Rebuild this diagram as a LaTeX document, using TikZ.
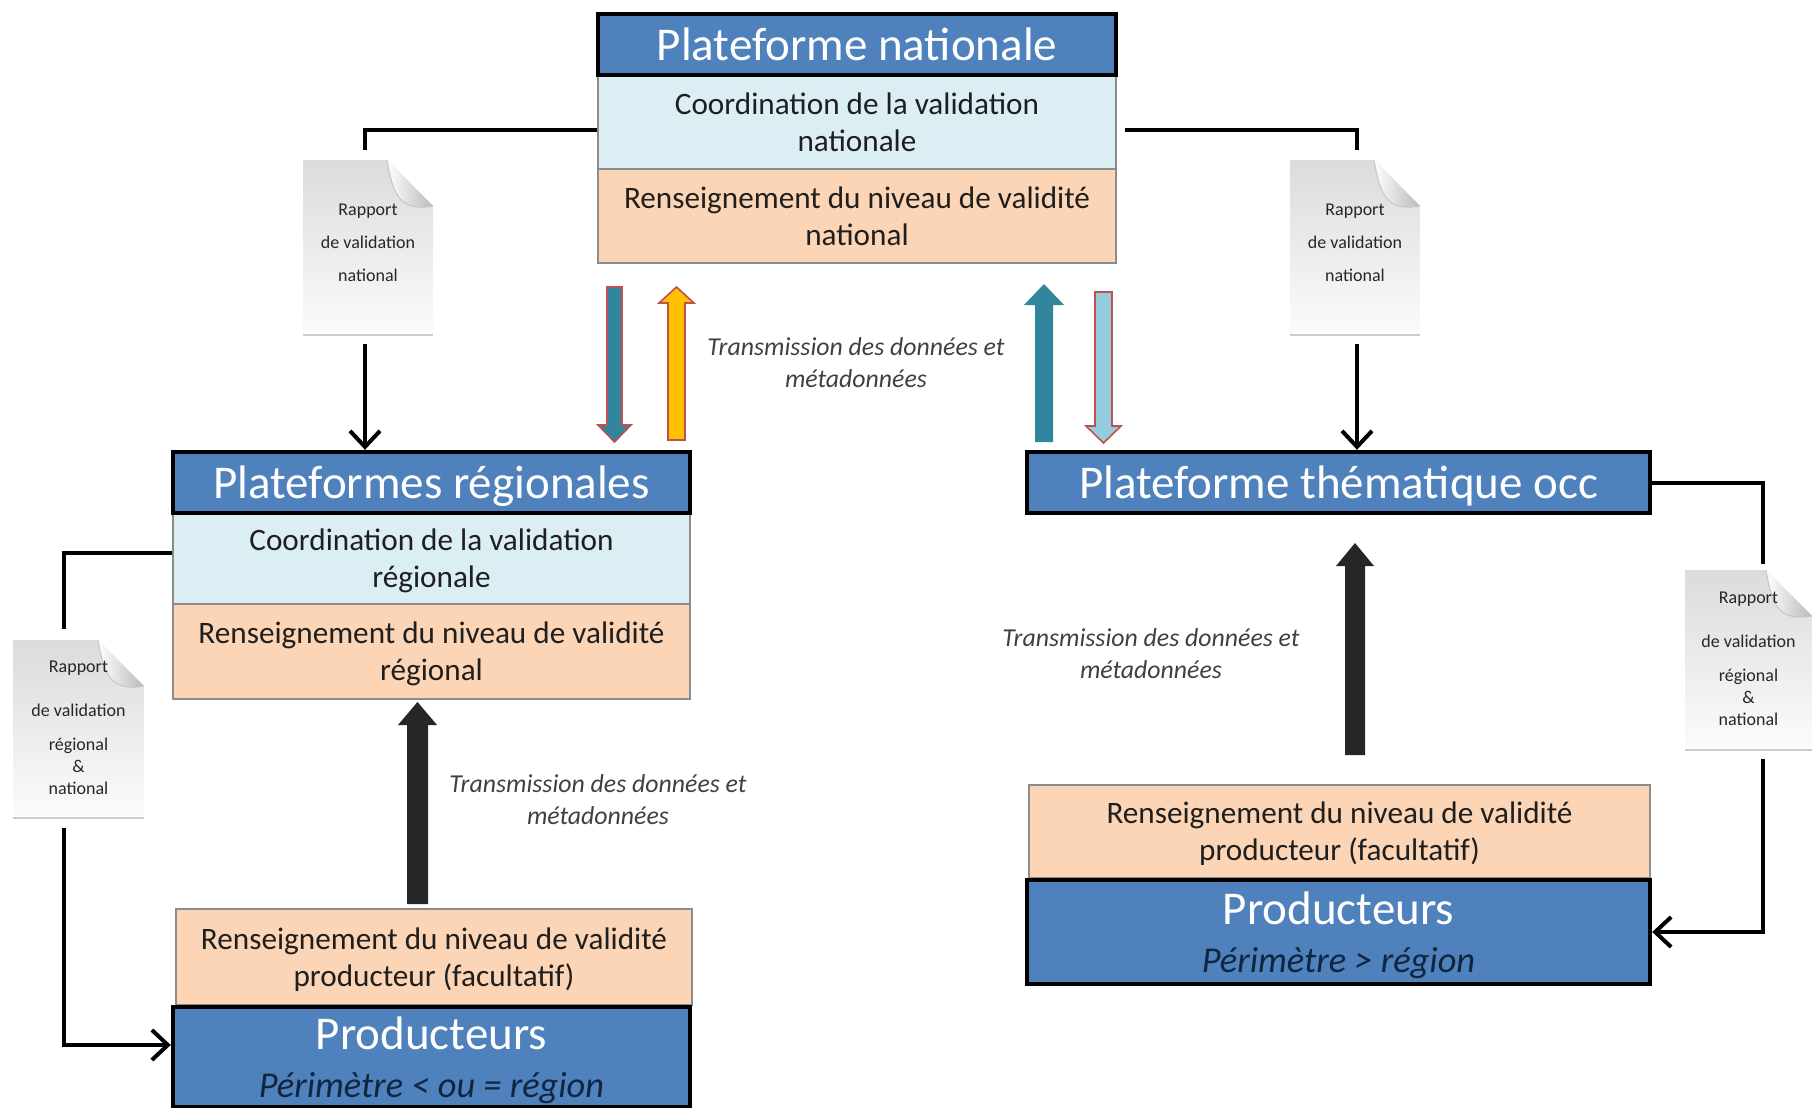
\documentclass[tikz,border=0pt]{standalone}
\usepackage{fontspec}
\setmainfont{Carlito}
\usetikzlibrary{calc,arrows.meta}
\definecolor{tblue}{HTML}{4F81BD}
\definecolor{lblue}{HTML}{DBEEF4}
\definecolor{peach}{HTML}{FBD5B5}
\definecolor{tealA}{HTML}{31859C}
\definecolor{skyA}{HTML}{93CDDD}
\definecolor{redA}{HTML}{C0504D}
\definecolor{goldA}{HTML}{FFC000}
\definecolor{darkA}{HTML}{262626}
\definecolor{navyA}{HTML}{10253F}
\definecolor{txtgray}{HTML}{404040}
\definecolor{boxgray}{HTML}{8C8C8C}
\definecolor{bodytxt}{HTML}{1F1F1F}
\begin{document}
\begin{tikzpicture}[x=0.5pt,y=-0.5pt,
  pos/.style n args={4}{at={({(#1+#3)/2},{(#2+#4)/2})}, minimum width={(#3-#1)*0.5pt}, minimum height={(#4-#2)*0.5pt}},
  titlebox/.style={inner sep=0pt, fill=tblue, draw=black, line width=2.2pt, text=white, align=center, text depth=0pt, font=\fontsize{23.5}{28}\selectfont},
  bodybox/.style={inner sep=0pt, draw=boxgray, line width=0.6pt, text=bodytxt, align=center, text depth=0pt, font=\fontsize{15.6}{18.5}\selectfont},
  prodbox/.style={inner sep=0pt, fill=tblue, draw=black, line width=2.2pt, align=center, text depth=0pt},
  docbox/.style={inner sep=0pt, text=darkA, align=center,
    path picture={
      \coordinate (pne) at (path picture bounding box.north east);
      \coordinate (pnw) at (path picture bounding box.north west);
      \coordinate (psw) at (path picture bounding box.south west);
      \coordinate (pse) at (path picture bounding box.south east);
      \coordinate (fa) at ([xshift=-23pt]pne);
      \coordinate (fb) at ([yshift=-23pt]pne);
      \shade[top color=gray!28, bottom color=gray!3] (psw) -- (pnw) -- (fa) -- (fb) -- (pse) -- cycle;
      \shade[left color=white, right color=gray!55] (fa) .. controls ([xshift=3pt,yshift=-17pt]fa) and ([xshift=-17pt,yshift=-3pt]fb) .. (fb) -- cycle;
      \draw[gray!45, line width=0.5pt] (fa) .. controls ([xshift=3pt,yshift=-17pt]fa) and ([xshift=-17pt,yshift=-3pt]fb) .. (fb);
    }},
  conn/.style={draw=black, line width=2pt},
  arr/.style={conn, -{Straight Barb[length=8pt,width=15pt]}},
  transtxt/.style={text=txtgray, align=center, font=\itshape\fontsize{12.9}{16}\selectfont},
  redblk/.style={draw=redA, line width=0.8pt},
]
\useasboundingbox (0,0) rectangle (1812,1108);

% ---------- National platform ----------
\node[bodybox, pos={598}{75}{1116}{169}, fill=lblue] (natC) {Coordination de la validation\\nationale};
\node[bodybox, pos={598}{169}{1116}{263}, fill=peach] (natR) {Renseignement du niveau de validité\\national};
\node[titlebox, pos={598}{14}{1116}{75}] (natT) {Plateforme nationale};

% ---------- Regional platforms ----------
\node[bodybox, pos={173}{513}{690}{604}, fill=lblue] (regC) {Coordination de la validation\\régionale};
\node[bodybox, pos={173}{604}{690}{699}, fill=peach] (regR) {Renseignement du niveau de validité\\régional};
\node[titlebox, pos={173}{452}{690}{513}] (regT) {Plateformes régionales};

% ---------- Thematic platform ----------
\node[titlebox, pos={1027}{452}{1650}{513}] (thT) {Plateforme thématique occ};

% ---------- Producers right ----------
\node[bodybox, pos={1029}{785}{1650}{878}, fill=peach] (rpO) {Renseignement du niveau de validité\\producteur (facultatif)};
\node[prodbox, pos={1027}{878}{1650}{982}, yshift=-1pt] (rpB) {{\fontsize{23.5}{28}\selectfont\color{white}Producteurs}\\[10.5pt]{\itshape\fontsize{18.2}{20}\selectfont\color{navyA}Périmètre > région}};

% ---------- Producers left ----------
\node[bodybox, pos={176}{909}{692}{1005}, fill=peach] (lpO) {Renseignement du niveau de validité\\producteur (facultatif)};
\node[prodbox, pos={173}{1005}{690}{1105}, yshift=-1pt] (lpB) {{\fontsize{23.5}{28}\selectfont\color{white}Producteurs}\\[10.5pt]{\itshape\fontsize{18.2}{20}\selectfont\color{navyA}Périmètre < ou = région}};

% ---------- Documents ----------
\node[docbox, pos={303}{160}{433}{333}, font=\fontsize{9}{16.5}\selectfont] (d1) {Rapport\\de validation\\national\rule[-3.5pt]{0pt}{0pt}};
\node[docbox, pos={1290}{160}{1420}{333}, font=\fontsize{9}{16.5}\selectfont] (d2) {Rapport\\de validation\\national\rule[-3.5pt]{0pt}{0pt}};
\node[docbox, pos={13}{640}{144}{816}, font=\fontsize{9}{11}\selectfont] (d3) {Rapport\\[11pt]de validation\\[6pt]régional\\\&\\national};
\node[docbox, pos={1685}{570}{1812}{748}, font=\fontsize{9}{11}\selectfont] (d4) {Rapport\\[11pt]de validation\\[6pt]régional\\\&\\national};
\foreach \d in {d1,d2,d3,d4} {
  \draw[gray!40, line width=1pt] ([yshift=-0.6pt]\d.south west) -- ([yshift=-0.6pt]\d.south east);
}

% ---------- Transmission labels ----------
\node[transtxt] (t1) at (856,363) {Transmission des données et\\métadonnées};
\node[transtxt] (t2) at (1151,654) {Transmission des données et\\métadonnées};
\node[transtxt] (t3) at (598,800) {Transmission des données et\\métadonnées};

% ---------- Report connectors ----------
\draw[conn] ([yshift=-4pt]natC.west) -| ([xshift=-1.5pt,yshift=5pt]d1.north);
\draw[arr] ([xshift=-1.5pt,yshift=-5.5pt]d1.south) -- ([xshift=-1.5pt]d1.south |- regT.north);
\draw[conn] ([xshift=4pt,yshift=-4pt]natC.east) -| ([xshift=1pt,yshift=5pt]d2.north);
\draw[arr] ([xshift=1pt,yshift=-5.5pt]d2.south) -- ([xshift=1pt]d2.south |- thT.north);
\draw[conn] (thT.east) -| ([xshift=7.25pt,yshift=3pt]d4.north);
\draw[arr] ([xshift=7.25pt,yshift=-5.5pt]d4.south) |- (rpB.east);
\draw[conn] ([yshift=2.75pt]regC.west) -| ([xshift=-7.25pt,yshift=5.5pt]d3.north);
\draw[arr] ([xshift=-7.25pt,yshift=-6pt]d3.south) |- ([yshift=6pt]lpB.west);

% ---------- Block arrows between national and regional / thematic ----------
\draw[redblk, fill=tealA] (607,287) -- (622,287) -- (622,425) -- (631,425) -- (614.5,442) -- (598,425) -- (607,425) -- cycle;
\draw[redblk, fill=goldA] (668,440) -- (685,440) -- (685,303) -- (694,303) -- (676.5,287) -- (659,303) -- (668,303) -- cycle;
\fill[tealA] (1035,442) -- (1053,442) -- (1053,305) -- (1064,305) -- (1044,284) -- (1024,305) -- (1035,305) -- cycle;
\draw[redblk, fill=skyA] (1095,292) -- (1112,292) -- (1112,426) -- (1121,426) -- (1103.5,443) -- (1086,426) -- (1095,426) -- cycle;

% ---------- Big dark arrows from producers ----------
\fill[darkA] (407,904) -- (428,904) -- (428,725) -- (437,725) -- (417.5,702) -- (398,725) -- (407,725) -- cycle;
\fill[darkA] (1345,755) -- (1365,755) -- (1365,566) -- (1374,566) -- (1355,543) -- (1336,566) -- (1345,566) -- cycle;
\end{tikzpicture}
\end{document}
